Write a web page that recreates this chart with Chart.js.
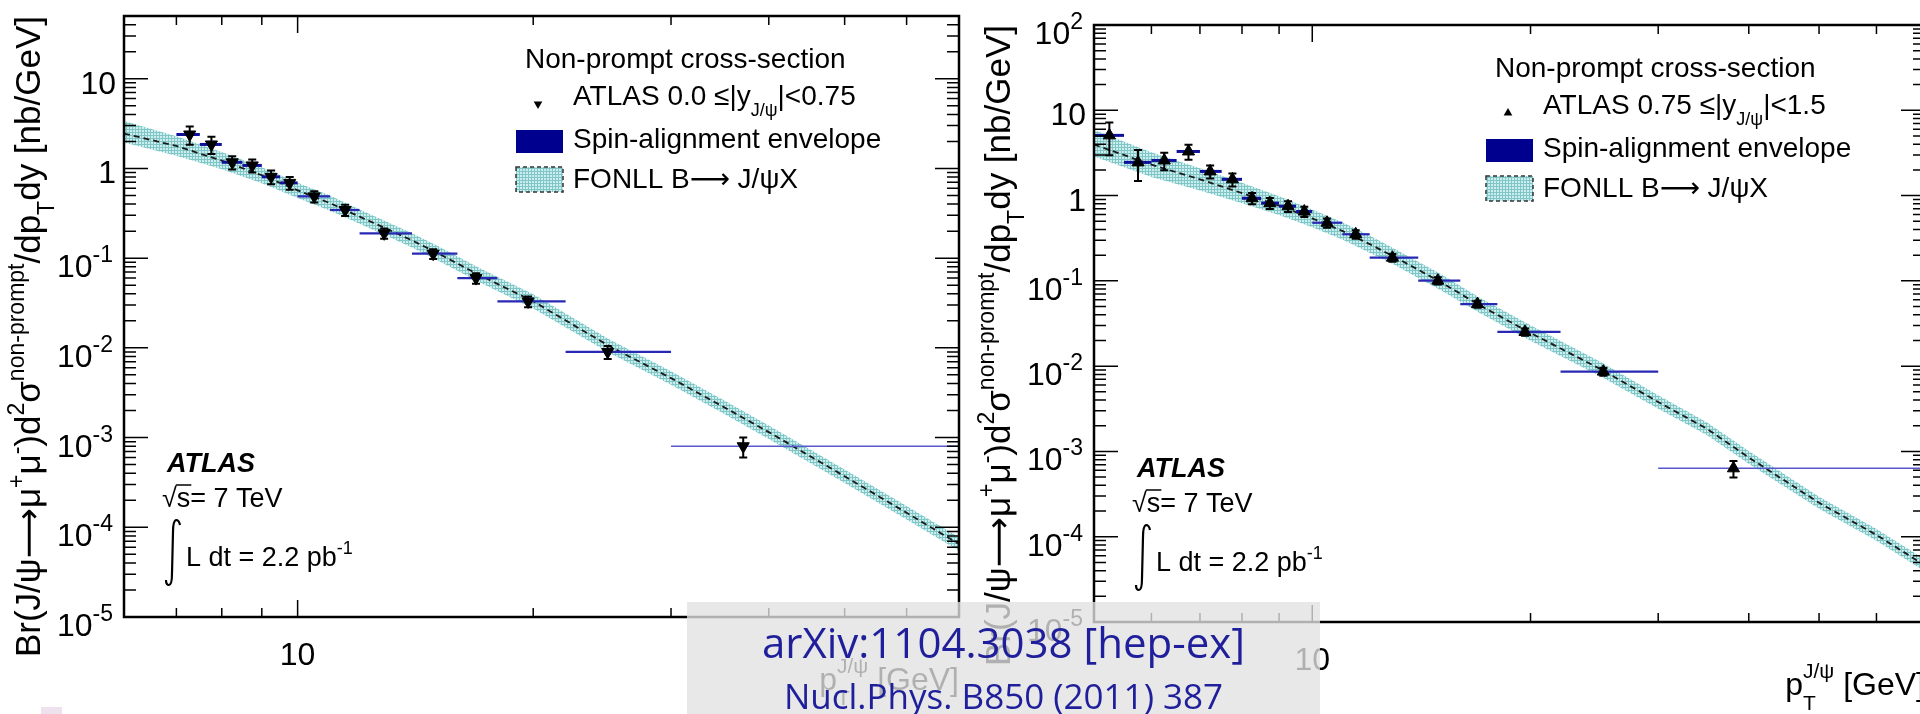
<!DOCTYPE html>
<html>
<head>
<meta charset="utf-8">
<title>ATLAS non-prompt J/psi cross-section</title>
<script src="https://cdn.jsdelivr.net/npm/chart.js@4.4.1/dist/chart.umd.min.js"></script>
<style>
  html, body { margin: 0; padding: 0; width: 1920px; height: 714px; overflow: hidden; background: #fff; }
  canvas { position: absolute; top: 0; }
  #left { left: 0; }
  #right { left: 962px; }
  #ref { position: absolute; left: 687px; top: 602px; width: 633px; height: 112px; background: rgba(225, 225, 225, 0.78); }
  #ref div { position: absolute; left: 0; width: 100%; text-align: center; font-family: "Open Sans", sans-serif; color: #1f1f9c; line-height: 1; white-space: nowrap; }
  #ref .l1 { top: 19px; font-size: 42px; }
  #ref .l2 { top: 76px; font-size: 35px; }
  #dot { position: absolute; left: 41px; top: 707px; width: 21px; height: 7px; background: #efe2ef; }
</style>
</head>
<body>
<canvas id="left" width="980" height="714"></canvas>
<canvas id="right" width="978" height="714"></canvas>
<div id="ref"><div class="l1">arXiv:1104.3038 [hep-ex]</div><div class="l2">Nucl.Phys. B850 (2011) 387</div></div>
<div id="dot"></div>
<script>
// central rapidity bin, 0 <= |y| < 0.75
const ptCentral = [7.28, 7.76, 8.25, 8.75, 9.25, 9.77, 10.5, 11.5, 12.9, 14.9, 16.9, 19.7, 24.9, 37.1];
const binLoCentral = [7, 7.5, 8, 8.5, 9, 9.5, 10, 11, 12, 14, 16, 18, 22, 30];
const binHiCentral = [7.5, 8, 8.5, 9, 9.5, 10, 11, 12, 14, 16, 18, 22, 30, 70];
const xsecCentral = [2.39, 1.85, 1.17, 1.08, 0.806, 0.69, 0.488, 0.344, 0.189, 0.112, 0.0599, 0.0329, 0.0090, 0.00080];
const errCentral = [0.55, 0.4, 0.2, 0.18, 0.14, 0.11, 0.07, 0.05, 0.025, 0.014, 0.008, 0.0045, 0.0015, 0.0002];

const fonllPtCentral = [6, 7, 8, 9, 10, 11, 12, 13, 14, 15, 17, 20, 25, 30, 35, 40, 50, 60, 70];
const fonllCentral = [2.45, 1.78, 1.22, 0.84, 0.57, 0.41, 0.29, 0.212, 0.158, 0.117, 0.066, 0.033, 0.0105, 0.0046, 0.0022, 0.00115, 0.00037, 0.000145, 0.000065];
const fonllHiCentral = [3.38, 2.29, 1.52, 1.03, 0.693, 0.499, 0.349, 0.255, 0.190, 0.141, 0.0793, 0.0397, 0.01248, 0.00547, 0.00262, 0.001367, 0.00044, 0.0001724, 0.0000773];
const fonllLoCentral = [1.95, 1.38, 0.98, 0.683, 0.469, 0.337, 0.241, 0.176, 0.131, 0.0973, 0.0549, 0.0275, 0.00883, 0.00387, 0.00185, 0.000967, 0.000311, 0.000122, 0.0000547];

// forward rapidity bin, 0.75 <= |y| < 1.5
const ptForward = [5.25, 5.75, 6.25, 6.75, 7.23, 7.76, 8.26, 8.74, 9.26, 9.75, 10.48, 11.48, 12.9, 14.9, 16.9, 19.65, 25.2, 38.1];
const binLoForward = [5, 5.5, 6, 6.5, 7, 7.5, 8, 8.5, 9, 9.5, 10, 11, 12, 14, 16, 18, 22, 30];
const binHiForward = [5.5, 6, 6.5, 7, 7.5, 8, 8.5, 9, 9.5, 10, 11, 12, 14, 16, 18, 22, 30, 70];
const xsecForward = [5.08, 2.45, 2.58, 3.29, 1.92, 1.55, 0.93, 0.815, 0.75, 0.65, 0.48, 0.352, 0.187, 0.1005, 0.0534, 0.0252, 0.00863, 0.000634];
const errForward = [2.1, 0.97, 0.6, 0.66, 0.33, 0.27, 0.14, 0.12, 0.11, 0.09, 0.06, 0.04, 0.02, 0.01, 0.005, 0.0025, 0.0009, 0.00014];

const fonllPtForward = [5, 6, 7, 8, 9, 10, 11, 12, 13, 14, 15, 17, 20, 25, 30, 35, 40, 50, 60, 70];
const fonllForward = [3.97, 2.3, 1.55, 1.07, 0.76, 0.54, 0.385, 0.27, 0.19, 0.135, 0.098, 0.052, 0.0245, 0.0092, 0.0038, 0.00185, 0.00085, 0.00025, 0.000105, 0.000046];
const fonllHiForward = [5.87, 3.21, 2.09, 1.41, 0.979, 0.688, 0.485, 0.34, 0.237, 0.168, 0.122, 0.064, 0.0301, 0.0112, 0.00457, 0.0022, 0.00101, 0.000294, 0.000123, 0.000054];
const fonllLoForward = [2.87, 1.65, 1.15, 0.812, 0.59, 0.424, 0.306, 0.214, 0.153, 0.108, 0.0787, 0.0423, 0.0199, 0.00756, 0.00316, 0.00156, 0.000715, 0.000213, 0.0000894, 0.0000391];

// axis ticks and labels
const xTickValues = [5, 6, 7, 8, 9, 10, 20, 30, 40, 50, 60];
const xLabelValues = [10];
const xLabels = ['10'];
const yTicksCentral = [1e-5, 1e-4, 1e-3, 1e-2, 1e-1, 1, 10];
const yLabelsCentral = [['10', '-5'], ['10', '-4'], ['10', '-3'], ['10', '-2'], ['10', '-1'], ['1', ''], ['10', '']];
const yTicksForward = [1e-5, 1e-4, 1e-3, 1e-2, 1e-1, 1, 10, 100];
const yLabelsForward = [['10', '-5'], ['10', '-4'], ['10', '-3'], ['10', '-2'], ['10', '-1'], ['1', ''], ['10', ''], ['10', '2']];

const FONT = '"Liberation Sans", Arial, Helvetica, "DejaVu Sans", sans-serif';

// text runs: 0 normal, 1 superscript, 2 subscript
const yTitleRuns = [['Br(J/ψ⟶μ', 0], ['+', 1], ['μ', 0], ['-', 1], [')d', 0], ['2', 1], ['σ', 0], ['non-prompt', 1], ['/dp', 0], ['T', 2], ['dy [nb/GeV]', 0]];
const legendTitle = 'Non-prompt cross-section';
const rapCentralRuns = [['ATLAS 0.0 ≤|y', 0], ['J/ψ', 2], ['|<0.75', 0]];
const rapForwardRuns = [['ATLAS 0.75 ≤|y', 0], ['J/ψ', 2], ['|<1.5', 0]];

function runsWidth(ctx, runs, size) {
  let w = 0;
  for (const [t, k] of runs) {
    ctx.font = (k ? Math.round(size * 0.65) : size) + 'px ' + FONT;
    w += ctx.measureText(t).width;
  }
  return w;
}

function drawRuns(ctx, x, y, runs, size) {
  for (const [t, k] of runs) {
    ctx.font = (k ? Math.round(size * 0.65) : size) + 'px ' + FONT;
    const dy = k === 1 ? -size * 0.45 : k === 2 ? size * 0.4 : 0;
    ctx.fillText(t, x, y + dy);
    x += ctx.measureText(t).width;
  }
  return x;
}

function triangle(ctx, x, y, r, down) {
  const s = down ? -1 : 1;
  ctx.beginPath();
  ctx.moveTo(x, y - s * r);
  ctx.lineTo(x + r * 0.866, y + s * r * 0.5);
  ctx.lineTo(x - r * 0.866, y + s * r * 0.5);
  ctx.closePath();
  ctx.fill();
}

// light teal stipple used for the FONLL band
const tile = document.createElement('canvas');
tile.width = 3; tile.height = 3;
const tctx = tile.getContext('2d');
tctx.fillStyle = '#cdeeee';
tctx.fillRect(0, 0, 3, 3);
tctx.fillStyle = '#80c6c6';
tctx.fillRect(0, 0, 3, 1);
tctx.fillRect(0, 0, 1, 3);
const bandFill = tctx.createPattern(tile, 'repeat');

function line(ctx, x1, y1, x2, y2) {
  ctx.moveTo(x1, y1);
  ctx.lineTo(x2, y2);
}

function framePlugin(p) {
  return {
    id: 'atlasFrame',
    afterDraw(chart) {
      const ctx = chart.ctx;
      const xs = chart.scales.x, ys = chart.scales.y;
      const { left: L, right: R, top: T, bottom: B } = chart.chartArea;
      ctx.save();
      ctx.fillStyle = '#000';
      ctx.strokeStyle = '#000';
      ctx.textAlign = 'left';
      ctx.textBaseline = 'alphabetic';

      // error bars
      ctx.lineWidth = 2;
      ctx.beginPath();
      p.val.forEach((v, i) => {
        const x = xs.getPixelForValue(p.pt[i]);
        const y1 = ys.getPixelForValue(v + p.err[i]);
        const y2 = ys.getPixelForValue(v - p.err[i]);
        line(ctx, x, y1, x, y2);
        line(ctx, x - 4, y1, x + 4, y1);
        line(ctx, x - 4, y2, x + 4, y2);
      });
      ctx.stroke();

      // frame
      ctx.lineWidth = 2.5;
      ctx.strokeRect(L, T, R - L, B - T);

      // y ticks, both sides
      ctx.lineWidth = 1.5;
      ctx.beginPath();
      for (let e = -5; e <= 2; e++) {
        for (let k = 1; k <= 9; k++) {
          const v = k * Math.pow(10, e);
          if (v < p.ymin * 0.999 || v > p.ymax * 1.001) continue;
          const y = ys.getPixelForValue(v);
          const len = k === 1 ? 24 : 12;
          line(ctx, L, y, L + len, y);
          line(ctx, R, y, R - len, y);
        }
      }
      // x ticks, top and bottom
      xTickValues.forEach(v => {
        if (v <= p.xmin || v >= p.xmax) return;
        const x = xs.getPixelForValue(v);
        const len = v === 10 ? 17 : 9;
        line(ctx, x, B, x, B - len);
        line(ctx, x, T, x, T + len);
      });
      ctx.stroke();

      // y tick labels
      p.yTicks.forEach((v, i) => {
        const [base, exp] = p.yLabels[i];
        const y = ys.getPixelForValue(v);
        if (exp) {
          ctx.font = '23px ' + FONT;
          const ew = ctx.measureText(exp).width;
          ctx.fillText(exp, L - 11 - ew, y + 4);
          ctx.font = '32px ' + FONT;
          const bw = ctx.measureText(base).width;
          ctx.fillText(base, L - 11 - ew - bw, y + 19);
        } else {
          ctx.font = '32px ' + FONT;
          const bw = ctx.measureText(base).width;
          ctx.fillText(base, L - 8 - bw, y + 15);
        }
      });

      // x tick labels
      ctx.font = '32px ' + FONT;
      xLabelValues.forEach((v, i) => {
        const x = xs.getPixelForValue(v);
        const w = ctx.measureText(xLabels[i]).width;
        ctx.fillText(xLabels[i], x - w / 2, B + 48);
      });

      // x title, right aligned at the end of the axis
      ctx.font = '32px ' + FONT;
      const gev = ' [GeV]';
      const gw = ctx.measureText(gev).width;
      ctx.font = '21px ' + FONT;
      const jw = ctx.measureText('J/ψ').width;
      ctx.font = '32px ' + FONT;
      const pw = ctx.measureText('p').width;
      let tx = R - gw - jw - pw;
      const ty = B + 73;
      ctx.fillText('p', tx, ty);
      tx += pw;
      ctx.font = '21px ' + FONT;
      ctx.fillText('J/ψ', tx, ty - 17);
      ctx.fillText('T', tx, ty + 15);
      tx += jw;
      ctx.font = '32px ' + FONT;
      ctx.fillText(gev, tx, ty);

      // y title, rotated, ending at the top of the axis
      ctx.save();
      ctx.translate(L - 84, T);
      ctx.rotate(-Math.PI / 2);
      const tw = runsWidth(ctx, yTitleRuns, 35);
      drawRuns(ctx, -tw, 0, yTitleRuns, 35);
      ctx.restore();

      // legend
      ctx.font = '28px ' + FONT;
      ctx.fillText(legendTitle, L + 401, T + 52);
      triangle(ctx, L + 414, T + 88, 5, p.down);
      drawRuns(ctx, L + 449, T + 89, p.rapRuns, 28);
      ctx.fillStyle = '#00008f';
      ctx.fillRect(L + 392, T + 114, 47, 23);
      ctx.fillStyle = bandFill;
      ctx.fillRect(L + 392, T + 151, 47, 25);
      ctx.setLineDash([4, 3]);
      ctx.lineWidth = 1.5;
      ctx.strokeStyle = '#333';
      ctx.strokeRect(L + 392, T + 151, 47, 25);
      ctx.setLineDash([]);
      ctx.fillStyle = '#000';
      ctx.font = '28px ' + FONT;
      ctx.fillText('Spin-alignment envelope', L + 449, T + 132);
      ctx.fillText('FONLL B⟶ J/ψX', L + 449, T + 172);

      // experiment label
      ctx.font = 'italic bold 27px ' + FONT;
      ctx.fillText('ATLAS', L + 43, B - 145);
      ctx.font = '27px ' + FONT;
      const rx = L + 38, ry = B - 110;
      ctx.fillText('√', rx, ry);
      const rw = ctx.measureText('√').width;
      const sw = ctx.measureText('s').width;
      ctx.fillText('s= 7 TeV', rx + rw, ry);
      ctx.lineWidth = 1.5;
      ctx.strokeStyle = '#000';
      ctx.beginPath();
      line(ctx, rx + rw - 1, ry - 22, rx + rw + sw + 1, ry - 22);
      ctx.stroke();
      // integral sign
      const ix = L + 44, iTop = B - 97, iBot = B - 32;
      ctx.lineWidth = 2.2;
      ctx.beginPath();
      ctx.moveTo(ix + 12, iTop + 5);
      ctx.quadraticCurveTo(ix + 11, iTop, ix + 8, iTop);
      ctx.quadraticCurveTo(ix + 5, iTop + 1, ix + 5, iTop + 12);
      ctx.lineTo(ix + 4, iBot - 12);
      ctx.quadraticCurveTo(ix + 4, iBot, ix + 1, iBot);
      ctx.quadraticCurveTo(ix - 2, iBot, ix - 2, iBot - 5);
      ctx.stroke();
      drawRuns(ctx, L + 62, B - 51, [['L dt = 2.2 pb', 0], ['-1', 1]], 27);

      ctx.restore();
    }
  };
}

function makeChart(id, p) {
  const pts = (xs, ys) => xs.map((x, i) => ({ x, y: ys[i] }));
  const env = [];
  p.lo.forEach((lo, i) => {
    env.push({ x: lo, y: p.val[i] }, { x: p.hi[i], y: p.val[i] }, { x: p.hi[i], y: null });
  });
  const binWidth = ctx => {
    const b = Math.floor(ctx.p0DataIndex / 3);
    return p.hi[b] - p.lo[b];
  };
  return new Chart(document.getElementById(id), {
    type: 'line',
    data: {
      datasets: [
        {
          data: pts(p.fpt, p.fhi), fill: '+1', backgroundColor: bandFill,
          borderWidth: 0, pointRadius: 0, order: 5
        },
        {
          data: pts(p.fpt, p.flo), fill: false,
          borderWidth: 0, pointRadius: 0, order: 5
        },
        {
          data: pts(p.fpt, p.fc), fill: false, borderColor: '#1a1a1a',
          borderDash: [6, 4], borderWidth: 1.8, pointRadius: 0, order: 4
        },
        {
          data: env, fill: false, pointRadius: 0, order: 3,
          borderColor: '#14149c', borderWidth: 2,
          segment: {
            borderWidth: ctx => binWidth(ctx) <= 0.5 ? 3 : binWidth(ctx) < 10 ? 2.2 : 1.5,
            borderColor: ctx => binWidth(ctx) <= 0.5 ? '#10109a' : binWidth(ctx) < 10 ? '#2828b4' : '#5858cc'
          }
        },
        {
          data: pts(p.pt, p.val), showLine: false, order: 1,
          pointStyle: 'triangle', rotation: p.down ? 180 : 0, pointRadius: 7,
          pointBackgroundColor: '#000', pointBorderColor: '#000', pointBorderWidth: 1
        }
      ]
    },
    options: {
      responsive: false,
      animation: false,
      devicePixelRatio: 1,
      events: [],
      layout: { padding: p.pad },
      elements: { line: { tension: 0 } },
      plugins: { legend: { display: false }, tooltip: { enabled: false } },
      scales: {
        x: { type: 'logarithmic', min: p.xmin, max: p.xmax, display: false },
        y: { type: 'logarithmic', min: p.ymin, max: p.ymax, display: false }
      }
    },
    plugins: [framePlugin(p)]
  });
}

makeChart('left', {
  pt: ptCentral, lo: binLoCentral, hi: binHiCentral, val: xsecCentral, err: errCentral,
  fpt: fonllPtCentral, fc: fonllCentral, fhi: fonllHiCentral, flo: fonllLoCentral,
  xmin: 6, xmax: 70, ymin: 1e-5, ymax: 50,
  yTicks: yTicksCentral, yLabels: yLabelsCentral, rapRuns: rapCentralRuns, down: true,
  pad: { left: 124, right: 21, top: 16, bottom: 97 }
});

makeChart('right', {
  pt: ptForward, lo: binLoForward, hi: binHiForward, val: xsecForward, err: errForward,
  fpt: fonllPtForward, fc: fonllForward, fhi: fonllHiForward, flo: fonllLoForward,
  xmin: 5, xmax: 70, ymin: 1e-5, ymax: 100,
  yTicks: yTicksForward, yLabels: yLabelsForward, rapRuns: rapForwardRuns, down: false,
  pad: { left: 132, right: 15, top: 25, bottom: 92 }
});
</script>
</body>
</html>
